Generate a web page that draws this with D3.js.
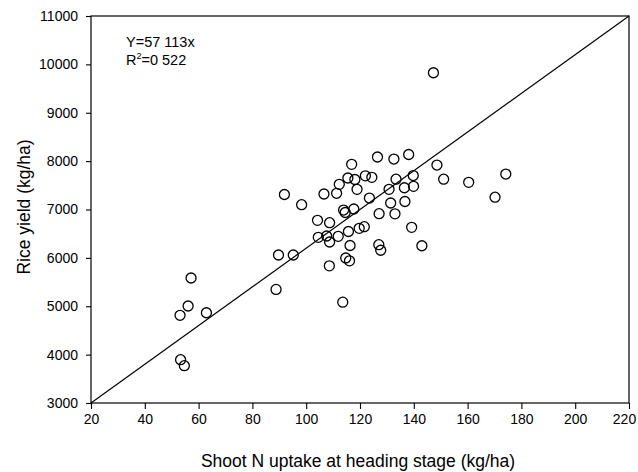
<!DOCTYPE html>
<html>
<head>
<meta charset="utf-8">
<script src="https://cdn.jsdelivr.net/npm/d3@7"></script>
<style>
  body { margin: 0; background: #fff; }
  svg { display: block; font-family: "Liberation Sans", Arial, sans-serif; }
</style>
</head>
<body>
<svg id="chart" width="638" height="472"></svg>
<script>
// shoot N uptake at heading (kg/ha) vs rice yield (kg/ha)
const uptake = [91.9, 98.3, 116.9, 126.5, 132.6, 138.1, 112.3, 115.5, 118.1, 122.0,
  124.4, 118.9, 106.6, 111.3, 123.5, 130.8, 133.4, 136.5, 139.8, 139.9,
  148.6, 151.1, 160.4, 174.2, 170.2, 147.3, 113.9, 114.5, 117.7, 131.4,
  136.7, 127.1, 133.0, 104.2, 108.7, 104.5, 107.6, 108.7, 111.9, 115.7,
  119.7, 121.6, 116.3, 127.0, 127.7, 139.2, 143.0, 89.7, 95.2, 88.8,
  108.6, 114.7, 116.1, 113.6, 57.2, 56.1, 53.1, 62.9, 53.3, 54.7];
const yieldKg = [7310, 7099, 7934, 8085, 8043, 8137, 7520, 7651, 7620, 7696,
  7665, 7417, 7320, 7335, 7237, 7417, 7626, 7450, 7702, 7479,
  7919, 7626, 7562, 7733, 7254, 9827, 6989, 6938, 7010, 7134,
  7165, 6913, 6911, 6776, 6727, 6425, 6452, 6328, 6446, 6545,
  6611, 6644, 6256, 6272, 6158, 6632, 6251, 6059, 6059, 5348,
  5836, 5997, 5939, 5084, 5584, 5005, 4813, 4866, 3895, 3771];

// fitted line endpoints
const fitX = [20, 220];
const fitY = [3000, 11000];

const xTicks = [20, 40, 60, 80, 100, 120, 140, 160, 180, 200, 220];
const yTicks = [3000, 4000, 5000, 6000, 7000, 8000, 9000, 10000, 11000];

const margin = {top: 16, right: 9, bottom: 69, left: 91};
const width = 638 - margin.left - margin.right,
      height = 472 - margin.top - margin.bottom;

const svg = d3.select("#chart");
const g = svg.append("g")
  .attr("transform", `translate(${margin.left},${margin.top})`);

const x = d3.scaleLinear().domain([20, 220]).range([0, width]);
const y = d3.scaleLinear().domain([3000, 11000]).range([height, 0]);

// axes
const xAxis = g.append("g")
  .attr("transform", `translate(0,${height})`)
  .call(d3.axisBottom(x).tickValues(xTicks).tickFormat(d3.format("d"))
    .tickSize(6).tickSizeOuter(0).tickPadding(5));
const yAxis = g.append("g")
  .call(d3.axisLeft(y).tickValues(yTicks).tickFormat(d3.format("d"))
    .tickSize(5).tickSizeOuter(0).tickPadding(8));

[xAxis, yAxis].forEach(a => {
  a.select(".domain").remove();
  a.selectAll("line").attr("stroke", "#000").attr("stroke-width", 1.1);
  a.selectAll("text").attr("fill", "#000").style("font-size", "14px")
    .style("font-family", "'Liberation Sans', Arial, sans-serif");
});
// last label sits at the page edge, nudge it in a little
xAxis.selectAll(".tick text").filter(d => d === 220).attr("dx", -5);

// frame
g.append("rect")
  .attr("width", width).attr("height", height)
  .attr("fill", "none").attr("stroke", "#000").attr("stroke-width", 1.2);

// regression line
g.append("line")
  .attr("x1", x(fitX[0])).attr("y1", y(fitY[0]))
  .attr("x2", x(fitX[1])).attr("y2", y(fitY[1]))
  .attr("stroke", "#000").attr("stroke-width", 1.2);

// points
g.selectAll("circle.pt")
  .data(uptake.map((d, i) => [d, yieldKg[i]]))
  .join("circle")
  .attr("class", "pt")
  .attr("cx", d => x(d[0]))
  .attr("cy", d => y(d[1]))
  .attr("r", 5)
  .attr("fill", "none")
  .attr("stroke", "#000")
  .attr("stroke-width", 1.3);

// equation
g.append("text")
  .attr("x", 35).attr("y", 31)
  .style("font-size", "14.5px")
  .text("Y=57 113x");
const r2 = g.append("text")
  .attr("x", 35).attr("y", 49)
  .style("font-size", "14.5px");
r2.append("tspan").text("R");
r2.append("tspan").attr("dy", -6).style("font-size", "9px").text("2");
r2.append("tspan").attr("dy", 6).text("=0 522");

// axis titles
svg.append("text")
  .attr("x", 358).attr("y", 467)
  .attr("text-anchor", "middle")
  .style("font-size", "17.5px")
  .text("Shoot N uptake at heading stage (kg/ha)");

svg.append("text")
  .attr("transform", "translate(30,207) rotate(-90)")
  .attr("text-anchor", "middle")
  .style("font-size", "17.5px")
  .text("Rice yield (kg/ha)");
</script>
</body>
</html>
